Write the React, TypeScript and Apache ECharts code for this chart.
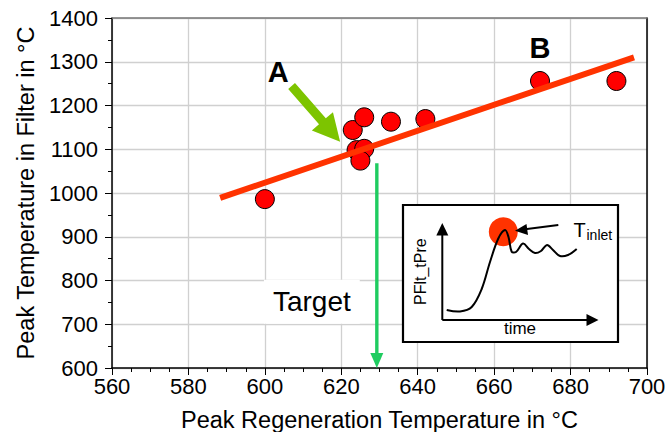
import React, { useEffect, useRef } from "react";
import * as echarts from "echarts";

// ---- data ----
const regenTemp = [600, 623, 626, 633, 642, 624, 626, 625, 672, 692];
const filterTemp = [986, 1144, 1173, 1163, 1169, 1098, 1101, 1074, 1256, 1256];
const fitLineX = [588.3, 696.6];
const fitLineY = [989, 1310];
const xTicks = [560, 580, 600, 620, 640, 660, 680, 700];
const yTicks = [600, 700, 800, 900, 1000, 1100, 1200, 1300, 1400];
// annotations (data coordinates)
const arrowAStart = [607.0, 1244.6];
const arrowATip = [619.7, 1117.3];
const targetTop = [629.3, 1068];
const targetTip = [629.3, 600];
const labelA = [603.5, 1277];
const labelB = [672, 1331];
const labelTarget = [612.3, 751.5];

const FONT = "'Liberation Sans', Arial, sans-serif";

function arrowPoly(s: number[], t: number[], sw: number, hl: number, hw: number) {
  const dx = t[0] - s[0];
  const dy = t[1] - s[1];
  const len = Math.sqrt(dx * dx + dy * dy);
  const ux = dx / len;
  const uy = dy / len;
  const nx = -uy;
  const ny = ux;
  const bx = t[0] - ux * hl;
  const by = t[1] - uy * hl;
  return [
    [s[0] + (nx * sw) / 2, s[1] + (ny * sw) / 2],
    [bx + (nx * sw) / 2, by + (ny * sw) / 2],
    [bx + (nx * hw) / 2, by + (ny * hw) / 2],
    [t[0], t[1]],
    [bx - (nx * hw) / 2, by - (ny * hw) / 2],
    [bx - (nx * sw) / 2, by - (ny * sw) / 2],
    [s[0] - (nx * sw) / 2, s[1] - (ny * sw) / 2],
  ];
}

export default function App() {
  const ref = useRef<HTMLDivElement>(null);
  useEffect(() => {
    if (!ref.current) return;
    const chart = echarts.init(ref.current, null, { renderer: "svg" });
    const gridColor = "#d0d0d0";
    chart.setOption({
      animation: false,
      backgroundColor: "#fff",
      textStyle: { fontFamily: FONT },
      grid: { left: 112, top: 18, width: 535, height: 350, containLabel: false, outerBoundsMode: "none" },
      xAxis: [
        {
          type: "value",
          min: xTicks[0],
          max: xTicks[xTicks.length - 1],
          interval: 20,
          name: "Peak Regeneration Temperature in °C",
          nameLocation: "middle",
          nameGap: 40,
          nameTextStyle: { fontSize: 23.5, color: "#000", fontFamily: FONT },
          axisLine: { show: true, lineStyle: { color: "#000", width: 1.5 } },
          axisTick: { show: true, inside: false, length: 7, lineStyle: { color: "#000" } },
          minorTick: { show: true, splitNumber: 4, length: 4, lineStyle: { color: "#000" } },
          axisLabel: { fontSize: 22, color: "#000", margin: 7, fontFamily: FONT, formatter: (v: number) => String(v) },
          splitLine: { show: true, lineStyle: { color: gridColor, width: 1.3 } },
        },
        {
          type: "value",
          position: "top",
          min: xTicks[0],
          max: xTicks[xTicks.length - 1],
          axisLine: { show: true, lineStyle: { color: "#777", width: 1.5 } },
          axisTick: { show: false },
          axisLabel: { show: false },
          splitLine: { show: false },
        },
      ],
      yAxis: [
        {
          type: "value",
          min: yTicks[0],
          max: yTicks[yTicks.length - 1],
          interval: 100,
          name: "Peak Temperature in Filter in °C",
          nameLocation: "middle",
          nameGap: 67,
          nameTextStyle: { fontSize: 23.5, color: "#000", fontFamily: FONT },
          axisLine: { show: true, lineStyle: { color: "#000", width: 1.5 } },
          axisTick: { show: true, inside: false, length: 7, lineStyle: { color: "#000" } },
          minorTick: { show: true, splitNumber: 2, length: 4, lineStyle: { color: "#000" } },
          axisLabel: { fontSize: 22, color: "#000", margin: 14, fontFamily: FONT, formatter: (v: number) => String(v) },
          splitLine: { show: true, lineStyle: { color: gridColor, width: 1.3 } },
        },
        {
          type: "value",
          position: "right",
          min: yTicks[0],
          max: yTicks[yTicks.length - 1],
          axisLine: { show: true, lineStyle: { color: "#000", width: 1.5 } },
          axisTick: { show: false },
          axisLabel: { show: false },
          splitLine: { show: false },
        },
      ],
      series: [
        {
          type: "scatter",
          data: regenTemp.map((x, i) => [x, filterTemp[i]]),
          symbol: "circle",
          symbolSize: 19,
          itemStyle: { color: "#ff0000", borderColor: "#000", borderWidth: 1, opacity: 1 },
          z: 3,
        },
        {
          type: "line",
          data: fitLineX.map((x, i) => [x, fitLineY[i]]),
          symbol: "none",
          lineStyle: { color: "#ff3300", width: 6, cap: "butt" },
          z: 4,
        },
      ],
    });

    const px = (p: number[]) => chart.convertToPixel({ xAxisIndex: 0, yAxisIndex: 0 }, p) as number[];
    const aS = px(arrowAStart);
    const aT = px(arrowATip);
    const tT = px(targetTop);
    const tB = px(targetTip);
    const pA = px(labelA);
    const pB = px(labelB);
    const pTarget = px(labelTarget);

    // inset (pixel layout relative to its box)
    const ix = 403;
    const iy = 205;
    const curve = [
      [43.7, 105], [57, 106.5], [68.7, 102], [78.7, 84], [87, 57], [95.3, 33.5], [102, 25],
      [105.5, 32], [108.7, 46.7], [113, 47], [120, 38.5], [126, 44], [132, 48], [138, 46],
      [144, 40], [150, 45], [157, 51], [165, 50], [173.7, 44],
    ];

    chart.setOption({
      graphic: [
        {
          type: "text",
          x: pTarget[0],
          y: pTarget[1],
          z: 10,
          style: {
            text: "Target",
            fontSize: 28,
            fontFamily: FONT,
            fill: "#000",
            align: "center",
            verticalAlign: "middle",
            backgroundColor: "#fff",
            padding: [8, 9],
          },
        },
        {
          type: "line",
          z: 11,
          shape: { x1: tT[0], y1: tT[1], x2: tB[0], y2: tB[1] - 13 },
          style: { stroke: "#1fcc60", lineWidth: 3.4 },
        },
        {
          type: "polygon",
          z: 11,
          shape: { points: [[tB[0] - 6.5, tB[1] - 15], [tB[0] + 6.5, tB[1] - 15], [tB[0], tB[1]]] },
          style: { fill: "#1fcc60" },
        },
        {
          type: "polygon",
          z: 11,
          shape: { points: arrowPoly(aS, aT, 9, 27, 28) },
          style: { fill: "#7dc400" },
        },
        {
          type: "text",
          x: pA[0],
          y: pA[1],
          z: 11,
          style: { text: "A", fontSize: 29, fontWeight: "bold", fontFamily: FONT, fill: "#000", align: "center", verticalAlign: "middle" },
        },
        {
          type: "text",
          x: pB[0],
          y: pB[1],
          z: 11,
          style: { text: "B", fontSize: 29, fontWeight: "bold", fontFamily: FONT, fill: "#000", align: "center", verticalAlign: "middle" },
        },
        {
          type: "group",
          x: ix,
          y: iy,
          z: 12,
          children: [
            {
              type: "rect",
              shape: { x: 0, y: 0, width: 215, height: 137 },
              style: { fill: "#fff", stroke: "#000", lineWidth: 2.2 },
            },
            {
              type: "line",
              shape: { x1: 39.3, y1: 115, x2: 39.3, y2: 28 },
              style: { stroke: "#000", lineWidth: 2 },
            },
            {
              type: "polygon",
              shape: { points: [[33.3, 30.5], [45.3, 30.5], [39.3, 18]] },
              style: { fill: "#000" },
            },
            {
              type: "line",
              shape: { x1: 39.3, y1: 115, x2: 186, y2: 115 },
              style: { stroke: "#000", lineWidth: 2 },
            },
            {
              type: "polygon",
              shape: { points: [[183.5, 109], [183.5, 121], [195.5, 115]] },
              style: { fill: "#000" },
            },
            {
              type: "text",
              x: 117,
              y: 123.5,
              style: { text: "time", fontSize: 17, fontFamily: FONT, fill: "#000", align: "center", verticalAlign: "middle" },
            },
            {
              type: "text",
              x: 17.7,
              y: 66.7,
              rotation: Math.PI / 2,
              style: { text: "PFlt_tPre", fontSize: 16, fontFamily: FONT, fill: "#000", align: "center", verticalAlign: "middle" },
            },
            {
              type: "circle",
              shape: { cx: 100.3, cy: 26.7, r: 14.5 },
              style: { fill: "#ff3300" },
            },
            {
              type: "polyline",
              shape: { points: curve, smooth: 0.35 },
              style: { stroke: "#000", lineWidth: 2, fill: null },
            },
            {
              type: "line",
              shape: { x1: 155.3, y1: 20, x2: 122, y2: 24.3 },
              style: { stroke: "#000", lineWidth: 2 },
            },
            {
              type: "polygon",
              shape: { points: [[123.5, 19], [125, 30], [112, 25.7]] },
              style: { fill: "#000" },
            },
            {
              type: "text",
              x: 170.5,
              y: 25,
              style: { text: "T", fontSize: 20, fontFamily: FONT, fill: "#000", align: "left", verticalAlign: "middle" },
            },
            {
              type: "text",
              x: 183.5,
              y: 37,
              style: { text: "inlet", fontSize: 14, fontFamily: FONT, fill: "#000", align: "left", verticalAlign: "bottom" },
            },
          ],
        },
      ],
    });

    return () => chart.dispose();
  }, []);

  return (
    <div
      ref={ref}
      style={{ position: "fixed", left: 0, top: 0, width: 668, height: 432, background: "#fff" }}
    />
  );
}
